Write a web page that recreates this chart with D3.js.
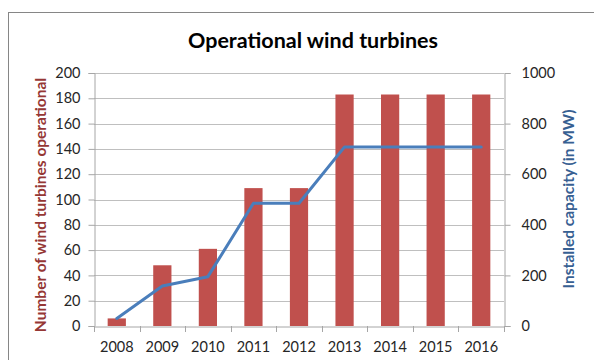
<!DOCTYPE html>
<html>
<head>
<meta charset="utf-8">
<script src="https://cdn.jsdelivr.net/npm/d3@7"></script>
<style>
  html, body { margin: 0; padding: 0; background: #fff; }
  svg { display: block; font-family: Lato, "Open Sans", sans-serif; }
</style>
</head>
<body>
<svg id="chart" width="594" height="360"></svg>
<script>
// Wind turbine fleet by year
const years = ["2008", "2009", "2010", "2011", "2012", "2013", "2014", "2015", "2016"];
const turbines = [6, 48, 61, 109, 109, 183, 183, 183, 183];
const capacityMW = [30, 158, 195, 485, 485, 708, 708, 708, 708];
const leftTicks = [0, 20, 40, 60, 80, 100, 120, 140, 160, 180, 200];
const rightTicks = [0, 200, 400, 600, 800, 1000];

const svg = d3.select("#chart");
const m = { left: 94, right: 504, top: 73, bottom: 326 };

// outer chart frame
svg.append("rect")
  .attr("x", 8.5).attr("y", 12.5)
  .attr("width", 620).attr("height", 400)
  .attr("fill", "none").attr("stroke", "#868686").attr("stroke-width", 1);

const x = d3.scaleBand().domain(years).range([m.left, m.right]).paddingInner(0).paddingOuter(0);
const yL = d3.scaleLinear().domain([0, 200]).range([m.bottom, m.top]);
const yR = d3.scaleLinear().domain([0, 1000]).range([m.bottom, m.top]);

// horizontal gridlines
svg.append("g").selectAll("line").data(leftTicks.slice(1)).join("line")
  .attr("x1", m.left).attr("x2", m.right)
  .attr("y1", d => Math.round(yL(d)) + 0.5).attr("y2", d => Math.round(yL(d)) + 0.5)
  .attr("stroke", "#bfbfbf").attr("stroke-width", 1);

// left axis
const gL = svg.append("g").attr("transform", `translate(${m.left + 0.5},0)`)
  .call(d3.axisLeft(yL).tickValues(leftTicks).tickFormat(d3.format("d")).tickSize(6).tickPadding(8));
// right axis
const gR = svg.append("g").attr("transform", `translate(${m.right + 0.5},0)`)
  .call(d3.axisRight(yR).tickValues(rightTicks).tickFormat(d3.format("d")).tickSize(6).tickPadding(11));
// bottom axis
const gB = svg.append("g").attr("transform", `translate(0,${m.bottom + 0.5})`)
  .call(d3.axisBottom(x).tickSize(0).tickPadding(15));

[gL, gR, gB].forEach(g => {
  g.select(".domain").attr("stroke", "#a6a6a6");
  g.selectAll(".tick line").attr("stroke", "#a6a6a6");
  g.selectAll(".tick text").attr("fill", "#262626").attr("font-size", 14.5)
    .attr("font-family", "Lato, 'Open Sans', sans-serif");
});

// category tick marks at band boundaries
svg.append("g").selectAll("line").data(d3.range(years.length + 1)).join("line")
  .attr("x1", i => Math.round(m.left + x.step() * i) + 0.5)
  .attr("x2", i => Math.round(m.left + x.step() * i) + 0.5)
  .attr("y1", m.bottom).attr("y2", m.bottom + 6)
  .attr("stroke", "#a6a6a6");

// bars: number of turbines
const barW = x.bandwidth() / 2.5;
svg.append("g").selectAll("rect").data(years).join("rect")
  .attr("x", d => x(d) + (x.bandwidth() - barW) / 2)
  .attr("width", barW)
  .attr("y", (d, i) => yL(turbines[i]))
  .attr("height", (d, i) => m.bottom - yL(turbines[i]))
  .attr("fill", "#c0504d");

// line: installed capacity
const line = d3.line()
  .x((d, i) => x(years[i]) + x.bandwidth() / 2)
  .y(d => yR(d));
svg.append("path").datum(capacityMW)
  .attr("d", line)
  .attr("fill", "none").attr("stroke", "#4a7ebb").attr("stroke-width", 3)
  .attr("stroke-linejoin", "round").attr("stroke-linecap", "round");

// title
svg.append("text")
  .attr("x", 313).attr("y", 48)
  .attr("text-anchor", "middle")
  .attr("font-size", 21.5).attr("font-weight", "bold").attr("fill", "#000")
  .text("Operational wind turbines");

// axis titles
svg.append("text")
  .attr("transform", "translate(46,205) rotate(-90)")
  .attr("text-anchor", "middle")
  .attr("font-size", 15.5).attr("font-weight", "bold").attr("fill", "#953735")
  .text("Number of wind turbines operational");
svg.append("text")
  .attr("transform", "translate(574,199) rotate(-90)")
  .attr("text-anchor", "middle")
  .attr("font-size", 15.5).attr("font-weight", "bold").attr("fill", "#376092")
  .text("Installed capacity (in MW)");
</script>
</body>
</html>
